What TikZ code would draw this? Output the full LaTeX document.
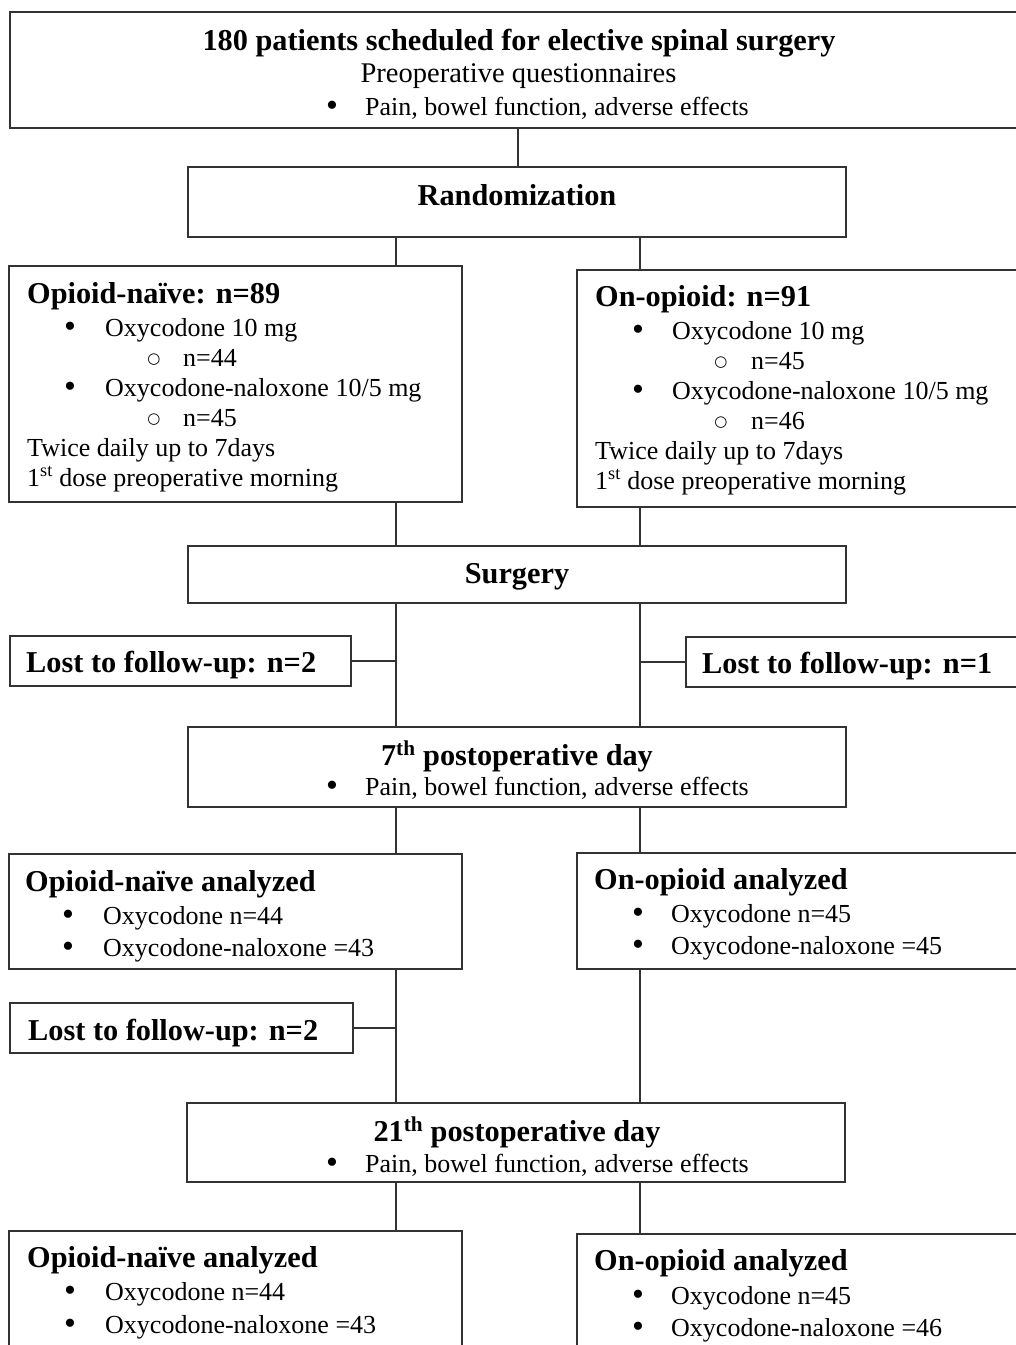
\documentclass[tikz,border=0pt]{standalone}
\usepackage{fontspec}
\setmainfont{Liberation Serif}
\newfontfamily\symfont{DejaVu Sans}
\begin{document}
\begin{tikzpicture}[x=1pt,y=-1pt,
  box/.style={draw=black!80,line width=1.4pt,fill=none,inner sep=0pt,outer sep=0pt,anchor=north west},
  hd/.style={font=\fontsize{30.3}{36}\selectfont\bfseries,inner sep=0pt,anchor=base west},
  tx/.style={font=\fontsize{26}{31}\selectfont,inner sep=0pt,anchor=base west},
  txb/.style={font=\fontsize{28.5}{34}\selectfont,inner sep=0pt,anchor=base},
  bul/.style={font=\fontsize{34}{38}\selectfont,inner sep=0pt,anchor=base,yshift=-1.5pt,text height=14pt,text depth=0pt},
  cir/.style={font=\fontsize{15}{18}\symfont,inner sep=0pt,anchor=base,yshift=3pt,text height=10pt,text depth=0pt},
  con/.style={draw=black!80,line width=1.4pt}]
\useasboundingbox (0,0) rectangle (1016,1345);
\clip (0,0) rectangle (1016,1345);
\coordinate (cL) at (396,0);
\coordinate (cR) at (640,0);
\coordinate (cM) at (518,0);
% boxes
\node[box,minimum width=1010pt,minimum height=116pt] (top) at (10,12) {};
\node[box,minimum width=658pt,minimum height=70pt] (rand) at (188,167) {};
\node[box,minimum width=453pt,minimum height=236pt] (naive1) at (9,266) {};
\node[box,minimum width=443pt,minimum height=237pt] (onop1) at (577,270) {};
\node[box,minimum width=658pt,minimum height=57pt] (surg) at (188,546) {};
\node[box,minimum width=341pt,minimum height=50pt] (lostL1) at (10,636) {};
\node[box,minimum width=334pt,minimum height=50pt] (lostR1) at (686,637) {};
\node[box,minimum width=658pt,minimum height=80pt] (day7) at (188,727) {};
\node[box,minimum width=453pt,minimum height=115pt] (naive2) at (9,854) {};
\node[box,minimum width=443pt,minimum height=116pt] (onop2) at (577,853) {};
\node[box,minimum width=343pt,minimum height=50pt] (lostL2) at (10,1003) {};
\node[box,minimum width=658pt,minimum height=79pt] (day21) at (187,1103) {};
\node[box,minimum width=453pt,minimum height=140pt] (naive3) at (9,1231) {};
\node[box,minimum width=443pt,minimum height=140pt] (onop3) at (577,1234) {};
% connectors
\draw[con] (top.south -| cM) -- (rand.north -| cM);
\draw[con] (rand.south -| cL) -- (naive1.north -| cL);
\draw[con] (rand.south -| cR) -- (onop1.north -| cR);
\draw[con] (naive1.south -| cL) -- (surg.north -| cL);
\draw[con] (onop1.south -| cR) -- (surg.north -| cR);
\draw[con] (surg.south -| cL) -- (day7.north -| cL);
\draw[con] (surg.south -| cR) -- (day7.north -| cR);
\draw[con] (lostL1.east) -- (lostL1.east -| cL);
\draw[con] (lostR1.west) -- (lostR1.west -| cR);
\draw[con] (day7.south -| cL) -- (naive2.north -| cL);
\draw[con] (day7.south -| cR) -- (onop2.north -| cR);
\draw[con] (naive2.south -| cL) -- (day21.north -| cL);
\draw[con] (onop2.south -| cR) -- (day21.north -| cR);
\draw[con] (lostL2.east) -- (lostL2.east -| cL);
\draw[con] (day21.south -| cL) -- (naive3.north -| cL);
\draw[con] (day21.south -| cR) -- (onop3.north -| cR);
% top box text
\node[hd,anchor=base] (t1) at (519,50) {180 patients scheduled for elective spinal surgery};
\node[txb] (t2) at (518.5,82) {Preoperative questionnaires};
\node[bul] (t3b) at (332,115) {•};
\node[tx] (t3) at (365,115) {Pain, bowel function, adverse effects};
% randomization
\node[hd,anchor=base] (t4) at (517,205) {Randomization};
% opioid-naive group
\node[hd] (n1h) at (27,303) {Opioid-naïve: n=89};
\node[bul] (n1b1) at (70,336) {•};
\node[tx] (n1t1) at (105,336) {Oxycodone 10 mg};
\node[cir] (n1c1) at (154,366) {○};
\node[tx] (n1t2) at (183,366) {n=44};
\node[bul] (n1b2) at (70,396) {•};
\node[tx] (n1t3) at (105,396) {Oxycodone-naloxone 10/5 mg};
\node[cir] (n1c2) at (154,426) {○};
\node[tx] (n1t4) at (183,426) {n=45};
\node[tx] (n1t5) at (27,456) {Twice daily up to 7days};
\node[tx] (n1t6) at (27,486) {1\textsuperscript{st} dose preoperative morning};
% on-opioid group
\node[hd] (o1h) at (595,306) {On-opioid: n=91};
\node[bul] (o1b1) at (638,339) {•};
\node[tx] (o1t1) at (672,339) {Oxycodone 10 mg};
\node[cir] (o1c1) at (721,369) {○};
\node[tx] (o1t2) at (751,369) {n=45};
\node[bul] (o1b2) at (638,399) {•};
\node[tx] (o1t3) at (672,399) {Oxycodone-naloxone 10/5 mg};
\node[cir] (o1c2) at (721,429) {○};
\node[tx] (o1t4) at (751,429) {n=46};
\node[tx] (o1t5) at (595,459) {Twice daily up to 7days};
\node[tx] (o1t6) at (595,489) {1\textsuperscript{st} dose preoperative morning};
% surgery
\node[hd,anchor=base] (t5) at (517,583) {Surgery};
% lost 1
\node[hd] (l1) at (26,672) {Lost to follow-up: n=2};
\node[hd] (l2) at (702,673) {Lost to follow-up: n=1};
% day 7
\node[hd,anchor=base] (t6) at (517,765) {7\textsuperscript{th} postoperative day};
\node[bul] (t6b) at (332,795) {•};
\node[tx] (t7) at (365,795) {Pain, bowel function, adverse effects};
% analyzed 7
\node[hd] (n2h) at (25,891) {Opioid-naïve analyzed};
\node[bul] (n2b1) at (68,924) {•};
\node[tx] (n2t1) at (103,924) {Oxycodone n=44};
\node[bul] (n2b2) at (68,956) {•};
\node[tx] (n2t2) at (103,956) {Oxycodone-naloxone =43};
\node[hd] (o2h) at (594,889) {On-opioid analyzed};
\node[bul] (o2b1) at (638,922) {•};
\node[tx] (o2t1) at (671,922) {Oxycodone n=45};
\node[bul] (o2b2) at (638,954) {•};
\node[tx] (o2t2) at (671,954) {Oxycodone-naloxone =45};
% lost 2
\node[hd] (l3) at (28,1040) {Lost to follow-up: n=2};
% day 21
\node[hd,anchor=base] (t8) at (517,1141) {21\textsuperscript{th} postoperative day};
\node[bul] (t8b) at (332,1172) {•};
\node[tx] (t9) at (365,1172) {Pain, bowel function, adverse effects};
% analyzed 21
\node[hd] (n3h) at (27,1267) {Opioid-naïve analyzed};
\node[bul] (n3b1) at (70,1300) {•};
\node[tx] (n3t1) at (105,1300) {Oxycodone n=44};
\node[bul] (n3b2) at (70,1333) {•};
\node[tx] (n3t2) at (105,1333) {Oxycodone-naloxone =43};
\node[hd] (o3h) at (594,1270) {On-opioid analyzed};
\node[bul] (o3b1) at (638,1304) {•};
\node[tx] (o3t1) at (671,1304) {Oxycodone n=45};
\node[bul] (o3b2) at (638,1336) {•};
\node[tx] (o3t2) at (671,1336) {Oxycodone-naloxone =46};
\end{tikzpicture}
\end{document}
